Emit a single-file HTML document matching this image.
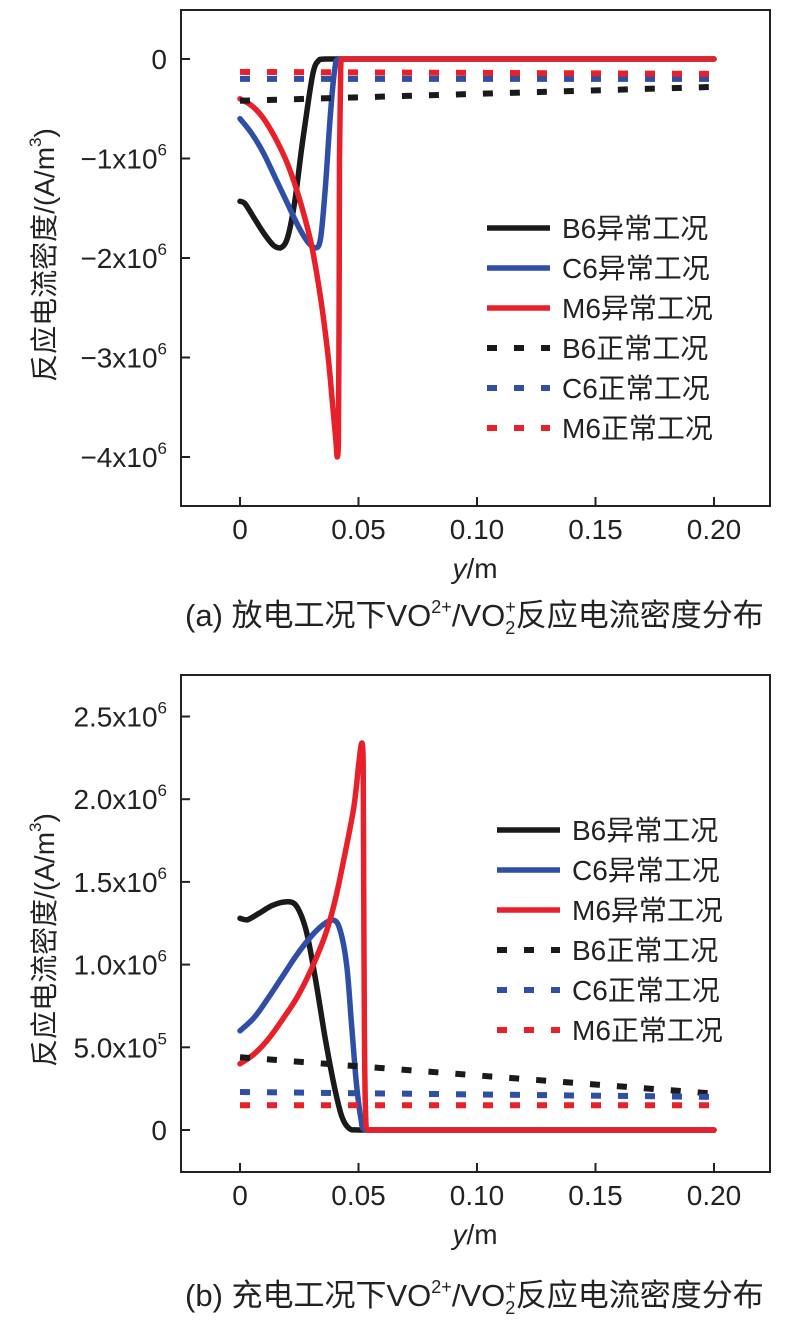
<!DOCTYPE html>
<html><head><meta charset="utf-8"><style>
body{margin:0;background:#fff;}
svg{display:block;font-family:"Liberation Sans","Noto Sans CJK SC",sans-serif;}
</style></head><body>
<svg id="fig" width="790" height="1320" viewBox="0 0 790 1320"></svg>
<script>
// ---- data (units: x in m, y in 1e6 A/m3) ----
const xTicks=[0,0.05,0.10,0.15,0.20];
const xTickLabels=["0","0.05","0.10","0.15","0.20"];
const aYTicks=[0,-1,-2,-3,-4];
const aYTickLabels=[["0",""],["−1x10","6"],["−2x10","6"],["−3x10","6"],["−4x10","6"]];
const bYTicks=[0,0.5,1,1.5,2,2.5];
const bYTickLabels=[["0",""],["5.0x10","5"],["1.0x10","6"],["1.5x10","6"],["2.0x10","6"],["2.5x10","6"]];
const seriesNames=["B6异常工况","C6异常工况","M6异常工况","B6正常工况","C6正常工况","M6正常工况"];
const seriesColors=["#1a1a1a","#2f4fa6","#e8202a","#1a1a1a","#2f4fa6","#e8202a"];
const aB6=[[0,-1.43],[0.002,-1.45],[0.006,-1.6],[0.01,-1.75],[0.014,-1.87],[0.017,-1.9],[0.02,-1.8],[0.023,-1.45],[0.026,-0.9],[0.029,-0.4],[0.031,-0.12],[0.033,-0.02],[0.036,0],[0.2,0]];
const aC6=[[0,-0.6],[0.005,-0.75],[0.01,-0.95],[0.015,-1.2],[0.02,-1.45],[0.025,-1.7],[0.029,-1.85],[0.032,-1.9],[0.034,-1.8],[0.036,-1.3],[0.038,-0.6],[0.04,-0.1],[0.042,0],[0.2,0]];
const aM6=[[0,-0.4],[0.005,-0.47],[0.01,-0.6],[0.015,-0.8],[0.02,-1.05],[0.025,-1.4],[0.03,-1.85],[0.034,-2.4],[0.037,-2.95],[0.039,-3.45],[0.0405,-3.85],[0.041,-4.0],[0.0415,-3.85],[0.0418,-2.5],[0.042,-1],[0.0425,-0.1],[0.043,0],[0.2,0]];
const aB6n=[[0,-0.42],[0.2,-0.28]];
const aC6n=[[0,-0.2],[0.2,-0.2]];
const aM6n=[[0,-0.13],[0.2,-0.15]];
const bB6=[[0,1.28],[0.003,1.27],[0.008,1.31],[0.014,1.36],[0.02,1.38],[0.024,1.35],[0.028,1.2],[0.032,0.9],[0.036,0.55],[0.04,0.25],[0.043,0.08],[0.046,0.01],[0.05,0],[0.2,0]];
const bC6=[[0,0.6],[0.006,0.68],[0.012,0.8],[0.018,0.93],[0.024,1.06],[0.03,1.17],[0.035,1.24],[0.039,1.27],[0.042,1.22],[0.045,1.0],[0.047,0.65],[0.049,0.3],[0.051,0.07],[0.053,0],[0.2,0]];
const bM6=[[0,0.4],[0.006,0.46],[0.012,0.55],[0.018,0.67],[0.024,0.8],[0.03,0.97],[0.036,1.18],[0.04,1.38],[0.044,1.65],[0.048,1.95],[0.05,2.2],[0.051,2.32],[0.0515,2.34],[0.052,2.2],[0.0522,1.5],[0.0525,0.6],[0.053,0.1],[0.054,0],[0.2,0]];
const bB6n=[[0,0.44],[0.2,0.22]];
const bC6n=[[0,0.23],[0.2,0.2]];
const bM6n=[[0,0.15],[0.2,0.15]];

const NS="http://www.w3.org/2000/svg";
const svg=document.getElementById('fig');
function mk(tag,attrs,parent){const e=document.createElementNS(NS,tag);for(const k in attrs)e.setAttribute(k,attrs[k]);(parent||svg).appendChild(e);return e;}
function smooth(pts){
  let d='M'+pts[0][0].toFixed(1)+','+pts[0][1].toFixed(1);
  for(let i=0;i<pts.length-1;i++){
    const p0=pts[Math.max(0,i-1)],p1=pts[i],p2=pts[i+1],p3=pts[Math.min(pts.length-1,i+2)];
    const t=0.5/3;
    let c1x=p1[0]+(p2[0]-p0[0])*t,c1y=p1[1]+(p2[1]-p0[1])*t;
    let c2x=p2[0]-(p3[0]-p1[0])*t,c2y=p2[1]-(p3[1]-p1[1])*t;
    const lo=Math.min(p1[0],p2[0]),hi=Math.max(p1[0],p2[0]);
    c1x=Math.min(hi,Math.max(lo,c1x));c2x=Math.min(hi,Math.max(lo,c2x));
    const ly=Math.min(p1[1],p2[1]),hy=Math.max(p1[1],p2[1]);
    c1y=Math.min(hy,Math.max(ly,c1y));c2y=Math.min(hy,Math.max(ly,c2y));
    d+=` C${c1x.toFixed(1)},${c1y.toFixed(1)} ${c2x.toFixed(1)},${c2y.toFixed(1)} ${p2[0].toFixed(1)},${p2[1].toFixed(1)}`;
  }
  return d;
}

function panel(cfg){
  const g=mk('g',{});
  
  
  const X=v=>240+v*2370;
  const Y=v=>cfg.y0-v*cfg.ys;
  const box=mk('rect',{x:181,y:cfg.top,width:589,height:cfg.bottom-cfg.top,fill:'none',stroke:'#222','stroke-width':2},g);
  
  
  xTicks.forEach((t,i)=>{
    mk('line',{x1:X(t),x2:X(t),y1:cfg.bottom,y2:cfg.bottom-9,stroke:'#222','stroke-width':2},g);
    const tx=mk('text',{x:X(t),y:cfg.bottom+33,'font-size':28,'text-anchor':'middle',fill:'#222'},g);
    tx.textContent=xTickLabels[i];
    
    
  });
  cfg.yt.forEach((t,i)=>{
    mk('line',{x1:181,x2:190,y1:Y(t),y2:Y(t),stroke:'#222','stroke-width':2},g);
    const tx=mk('text',{x:167,y:Y(t)+10,'font-size':28,'text-anchor':'end',fill:'#222'},g);
    
    
    const a=mk('tspan',{},tx);a.textContent=cfg.ytl[i][0];
    if(cfg.ytl[i][1]){const s=mk('tspan',{'font-size':17,dy:-13},tx);s.textContent=cfg.ytl[i][1];}
  });
  const xt=mk('text',{x:475,y:cfg.bottom+72,'font-size':28,'text-anchor':'middle',fill:'#222'},g);
  
  
  const xi=mk('tspan',{'font-style':'italic'},xt);xi.textContent='y';
  const xm=mk('tspan',{},xt);xm.textContent='/m';
  const yt=mk('text',{transform:`translate(54,${cfg.ymid}) rotate(-90)`,'font-size':28,'text-anchor':'middle',fill:'#222'},g);
  
  
  const y1=mk('tspan',{},yt);y1.textContent='反应电流密度/(A/m';
  const y2=mk('tspan',{'font-size':17,dy:-13},yt);y2.textContent='3';
  const y3=mk('tspan',{dy:13},yt);y3.textContent=')';
  cfg.series.forEach((s,i)=>{
    const dashed=i>=3;
    const pts=s.map(p=>[X(p[0]),Y(p[1])]);
    const d=dashed?('M'+pts.map(p=>p[0].toFixed(1)+','+p[1].toFixed(1)).join(' L')):smooth(pts);
    const p=mk('path',{d:d,fill:'none',stroke:seriesColors[i],'stroke-width':dashed?6:5.5,'stroke-linejoin':'round','stroke-linecap':dashed?'butt':'round','stroke-dasharray':dashed?'10 17':'none'},g);
    
    
  });
  const lg=mk('g',{},g);
  
  
  seriesNames.forEach((n,i)=>{
    const yy=cfg.legY+i*cfg.legDy;
    const e=mk('g',{},lg);
    
    
    mk('line',{x1:cfg.legX,x2:cfg.legX+63,y1:yy,y2:yy,stroke:seriesColors[i],'stroke-width':i>=3?6:5.5,'stroke-dasharray':i>=3?'10 17':'none'},e);
    const t=mk('text',{x:cfg.legX+75,y:yy+10,'font-size':28,fill:'#222'},e);t.textContent=n;
  });
  const cap=mk('text',{x:185,y:cfg.capY,'font-size':31,fill:'#222'},g);
  
  
  const c1=mk('tspan',{},cap);c1.textContent=cfg.cap+'VO';
  const c2=mk('tspan',{'font-size':18,dy:-13},cap);c2.textContent='2+';
  const c3=mk('tspan',{dy:13},cap);c3.textContent='/VO';
  const c4=mk('tspan',{'font-size':18,dy:8},cap);c4.textContent='2';
  const c5=mk('tspan',{'font-size':18,dx:-10,dy:-21},cap);c5.textContent='+';
  const c6=mk('tspan',{dy:13},cap);c6.textContent='反应电流密度分布';
}
panel({name:'chart-a-discharge',top:10,bottom:506,y0:59,ys:99.5,yt:aYTicks,ytl:aYTickLabels,ymid:255,
  series:[aB6,aC6,aM6,aB6n,aC6n,aM6n],legX:487,legY:228,legDy:40,capY:626,cap:'(a) 放电工况下'});
panel({name:'chart-b-charge',top:675,bottom:1172,y0:1130,ys:165.4,yt:bYTicks,ytl:bYTickLabels,ymid:940,
  series:[bB6,bC6,bM6,bB6n,bC6n,bM6n],legX:497,legY:830,legDy:40,capY:1306,cap:'(b) 充电工况下'});
</script>
</body></html>
